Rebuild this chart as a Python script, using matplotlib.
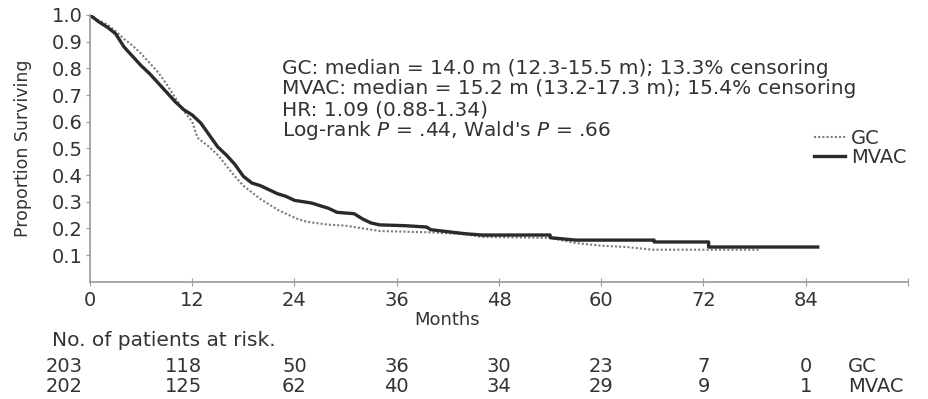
import matplotlib
matplotlib.use("Agg")
import matplotlib.pyplot as plt
import matplotlib.transforms as mtransforms

# Kaplan-Meier curves (months, proportion surviving)
gc_t = [0, 1, 2, 3, 4, 5, 6, 7, 8, 9, 10, 11, 12, 12.6, 13, 14, 15, 16, 17,
        18, 19, 20, 21, 22, 23, 24, 25, 26, 27, 28, 30, 32, 34, 40, 44, 46,
        54, 57, 60, 63, 66, 78.6]
gc_s = [1.0, 0.98, 0.965, 0.94, 0.91, 0.885, 0.855, 0.82, 0.785, 0.74, 0.69,
        0.64, 0.6, 0.54, 0.53, 0.505, 0.475, 0.435, 0.395, 0.36, 0.335, 0.31,
        0.29, 0.27, 0.255, 0.24, 0.228, 0.222, 0.218, 0.214, 0.21, 0.2, 0.19,
        0.185, 0.178, 0.168, 0.164, 0.145, 0.135, 0.13, 0.12, 0.12]

mvac_t = [0, 1, 2, 3, 4, 5, 6, 7, 8, 9, 10, 11, 12, 13, 14, 15, 16, 17, 18,
          19, 20, 21, 22, 23, 24, 25, 26, 27, 28, 29, 31, 32, 33, 34, 37,
          39.5, 40, 44, 46, 54, 54, 57, 66.2, 66.2, 72.6, 72.6, 85.4]
mvac_s = [1.0, 0.975, 0.955, 0.93, 0.88, 0.845, 0.81, 0.78, 0.745, 0.71,
          0.675, 0.645, 0.625, 0.595, 0.55, 0.505, 0.475, 0.44, 0.395, 0.37,
          0.36, 0.345, 0.33, 0.32, 0.305, 0.3, 0.295, 0.285, 0.275, 0.26,
          0.255, 0.235, 0.22, 0.213, 0.21, 0.205, 0.195, 0.18, 0.175, 0.175,
          0.165, 0.156, 0.156, 0.149, 0.149, 0.13, 0.13]

# numbers at risk
risk_times = [0, 12, 24, 36, 48, 60, 72, 84]
risk_gc = [203, 118, 50, 36, 30, 23, 7, 0]
risk_mvac = [202, 125, 62, 40, 34, 29, 9, 1]

stats_lines = [
    "GC: median = 14.0 m (12.3-15.5 m); 13.3% censoring",
    "MVAC: median = 15.2 m (13.2-17.3 m); 15.4% censoring",
    "HR: 1.09 (0.88-1.34)",
    r"Log-rank $P$ = .44, Wald's $P$ = .66",
]

TXT = "#333333"
AXC = "#9a9a9a"
plt.rcParams["font.family"] = "DejaVu Sans"

W, H = 929, 399
fig = plt.figure(figsize=(W / 100, H / 100), dpi=100)
ax = fig.add_axes([90 / W, 1 - 281.7 / H, (908 - 90) / W, (281.7 - 15) / H])

ax.plot(gc_t, gc_s, color="#7a7a7a", lw=1.5, linestyle=(0, (1, 1)),
        label="GC")
ax.plot(mvac_t, mvac_s, color="#2a2a2a", lw=2.4, label="MVAC")

ax.set_xlim(0, 96)
ax.set_ylim(0, 1.0)
ax.set_xticks(range(0, 97, 12))
ax.set_xticklabels([str(t) for t in range(0, 85, 12)] + [""])
ax.set_yticks([i / 10 for i in range(1, 11)])
ax.set_yticklabels(["%.1f" % (i / 10) for i in range(1, 11)])
ax.tick_params(axis="x", direction="inout", length=6, color=AXC,
               labelsize=14, labelcolor=TXT, pad=4)
ax.tick_params(axis="y", direction="out", length=3, color=AXC,
               labelsize=14, labelcolor=TXT, pad=2)
for side in ("top", "right"):
    ax.spines[side].set_visible(False)
for side in ("left", "bottom"):
    ax.spines[side].set_color(AXC)
    ax.spines[side].set_linewidth(1.2)

ax.set_ylabel("Proportion Surviving", fontsize=12.5, color=TXT)
ax.yaxis.set_label_coords(-0.071, 0.5)

for i, line in enumerate(stats_lines):
    fig.text(282 / W, 1 - (68 + 21 * i) / H, line, fontsize=14.5, color=TXT,
             va="center", ha="left")

ax.legend(loc="upper left", bbox_to_anchor=(814 / W, 1 - 129 / H),
          bbox_transform=fig.transFigure, frameon=False, fontsize=14,
          handlelength=1.6, handletextpad=0.3, labelspacing=0.0,
          borderpad=0, borderaxespad=0, labelcolor=TXT)

tr = mtransforms.blended_transform_factory(ax.transData, fig.transFigure)
fig.text(447 / W, 1 - 320 / H, "Months", fontsize=13, color=TXT,
         ha="center", va="center")
fig.text(52 / W, 1 - 340 / H, "No. of patients at risk.", fontsize=14.5,
         color=TXT, ha="left", va="center")

risk_x = [-3, 11, 24, 36, 48, 60, 72, 84]
for x, a, b in zip(risk_x, risk_gc, risk_mvac):
    ax.text(x, 1 - 366 / H, str(a), transform=tr, fontsize=14, color=TXT,
            ha="center", va="center")
    ax.text(x, 1 - 386 / H, str(b), transform=tr, fontsize=14, color=TXT,
            ha="center", va="center")
ax.text(89.0, 1 - 366 / H, "GC", transform=tr, fontsize=14, color=TXT,
        ha="left", va="center")
ax.text(89.0, 1 - 386 / H, "MVAC", transform=tr, fontsize=14, color=TXT,
        ha="left", va="center")

fig.savefig("out.png", dpi=100)
